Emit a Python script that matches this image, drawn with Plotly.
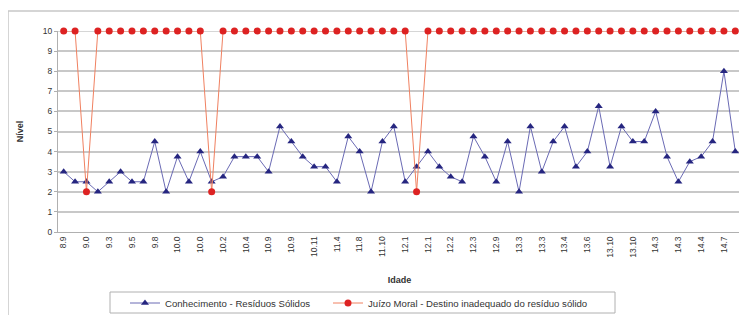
import plotly.graph_objects as go

# Category tick labels (shown on every second category)
tick_labels = ["8.9", "9.0", "9.3", "9.5", "9.8", "10.0", "10.0", "10.2", "10.4", "10.9",
               "10.9", "10.11", "11.4", "11.8", "11.10", "12.1", "12.1", "12.2", "12.3", "12.9",
               "13.3", "13.3", "13.4", "13.6", "13.10", "13.10", "14.3", "14.3", "14.4", "14.7"]

conhecimento = [3, 2.5, 2.5, 2, 2.5, 3, 2.5, 2.5, 4.5, 2,
                3.75, 2.5, 4, 2.5, 2.75, 3.75, 3.75, 3.75, 3, 5.25,
                4.5, 3.75, 3.25, 3.25, 2.5, 4.75, 4, 2, 4.5, 5.25,
                2.5, 3.25, 4, 3.25, 2.75, 2.5, 4.75, 3.75, 2.5, 4.5,
                2, 5.25, 3, 4.5, 5.25, 3.25, 4, 6.25, 3.25, 5.25,
                4.5, 4.5, 6, 3.75, 2.5, 3.5, 3.75, 4.5, 8, 4]

juizo = [10, 10, 2, 10, 10, 10, 10, 10, 10, 10,
         10, 10, 10, 2, 10, 10, 10, 10, 10, 10,
         10, 10, 10, 10, 10, 10, 10, 10, 10, 10,
         10, 2, 10, 10, 10, 10, 10, 10, 10, 10,
         10, 10, 10, 10, 10, 10, 10, 10, 10, 10,
         10, 10, 10, 10, 10, 10, 10, 10, 10, 10]

names = ["Conhecimento - Resíduos Sólidos", "Juízo Moral - Destino inadequado do resíduo sólido"]

idx = list(range(len(conhecimento)))
FONT = "Liberation Sans, Arial, sans-serif"

W, H = 739, 307
L, R, T, B = 50, 6, 23, 83
PW, PH = W - L - R, H - T - B


def px(x):
    return (x - L) / PW


def py(y):
    return (H - B - y) / PH


fig = go.Figure()
fig.add_trace(go.Scatter(
    x=idx, y=conhecimento, name=names[0], mode="lines+markers",
    line=dict(color="#6a6ab4", width=1),
    marker=dict(symbol="triangle-up", size=7, color="#262680"),
    cliponaxis=False, legend="legend",
))
fig.add_trace(go.Scatter(
    x=idx, y=juizo, name=names[1], mode="lines+markers",
    line=dict(color="#f08060", width=1),
    marker=dict(symbol="circle", size=7, color="#dd2222"),
    cliponaxis=False, legend="legend2",
))

leg_common = dict(
    orientation="h", yanchor="middle", xanchor="left",
    font=dict(size=9.6, color="#333333"),
    borderwidth=0, bgcolor="rgba(0,0,0,0)", itemwidth=30,
)

fig.update_layout(
    width=W, height=H,
    margin=dict(l=L, r=R, t=T, b=B, autoexpand=False),
    paper_bgcolor="white", plot_bgcolor="white",
    font=dict(family=FONT, size=8, color="#333333"),
    showlegend=True,
    legend=dict(x=px(117), y=py(295), **leg_common),
    legend2=dict(x=px(320), y=py(295), **leg_common),
    xaxis=dict(
        range=[-0.5, len(idx) - 0.5],
        tickmode="array", tickvals=idx[::2], ticktext=tick_labels,
        tickangle=-90, tickfont=dict(size=8.5, color="#333333"),
        showgrid=False, zeroline=False, automargin=False,
        showline=True, linecolor="#b0b0b0", linewidth=1,
        ticks="",
        title=dict(text="<b>Idade</b>", font=dict(size=9, color="#333333"), standoff=20),
    ),
    yaxis=dict(
        range=[0, 10], dtick=1, automargin=False,
        tickfont=dict(size=8.5, color="#333333"),
        showgrid=True, gridcolor="#c8c8c8", gridwidth=1.5,
        zeroline=False,
        showline=True, linecolor="#b0b0b0", linewidth=1,
        ticks="outside", ticklen=3, tickcolor="#b0b0b0",
        title=dict(text="<b>Nível</b>", font=dict(size=9, color="#333333"), standoff=17),
    ),
    shapes=[
        dict(type="rect", xref="paper", yref="paper",
             x0=px(0), x1=px(737), y0=py(320), y1=py(3),
             line=dict(color="#c8c8c8", width=1.5), fillcolor="rgba(0,0,0,0)", layer="below"),
        dict(type="rect", xref="paper", yref="paper",
             x0=px(102), x1=px(607), y0=py(305), y1=py(284),
             line=dict(color="#b0b0b0", width=1), fillcolor="white", layer="below"),
        dict(type="line", xref="paper", yref="y", x0=0, x1=1, y0=10, y1=10,
             line=dict(color="#c8c8c8", width=1.5), layer="below"),
    ],
)

fig.write_html("out.html")
